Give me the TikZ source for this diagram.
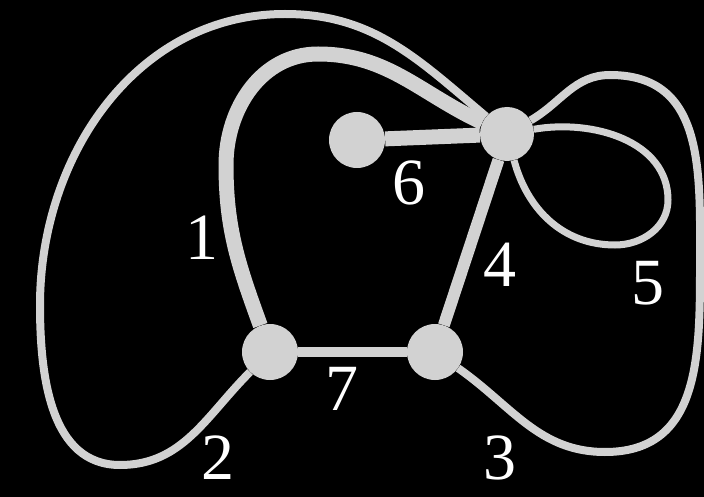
\documentclass[tikz,border=0pt]{standalone}
\usepackage{fontspec}
\setmainfont{Liberation Serif}
\definecolor{edgegray}{RGB}{210,210,210}

\begin{document}
\begin{tikzpicture}[x=1pt,y=1pt,
  v/.style={circle,fill=edgegray,inner sep=0,minimum size=56pt},
  e/.style={draw=edgegray,line width=#1},
  lab/.style={text=white,inner sep=0,font=\fontsize{66}{76}\selectfont}]
\fill[black] (0,0) rectangle (704,-497);
\useasboundingbox (0,0) rectangle (704,-497);
\node[v] (A) at (270,-352) {};
\node[v] (B) at (435,-352) {};
\node[v,minimum size=54pt] (C) at (507,-134) {};
\node[v] (D) at (357,-140) {};
\draw[e=15pt] (A) to[out=110,in=-90] (226,-165) to[out=90,in=180] (318,-54) to[out=0,in=155] (C);
\draw[e=8pt] (A) to[out=225,in=0] (120,-465) to[out=180,in=-90] (40,-305)
  to[out=90,in=180] (285,-14) to[out=0,in=140] (C);
\draw[e=8pt] (B) to[out=-35,in=180] (605,-452) to[out=0,in=-90,looseness=1.15] (700,-268)
  to[out=90,in=0,looseness=1.15] (610,-75) to[out=180,in=30] (C);
\draw[e=12pt] (B) -- (C);
\draw[e=7pt] (C) to[out=10,in=90] (668,-200) to[out=-90,in=0] (615,-245) to[out=180,in=-75] (C);
\draw[e=15pt] (D) -- (C);
\draw[e=10pt] (A) -- (B);
\foreach \n/\p in {1/{202,-238},2/{218,-458},3/{500,-458},4/{500,-265},5/{648,-283},6/{409,-183},7/{342,-389}}
  \node[lab] (l\n) at (\p) {\n};
\end{tikzpicture}
\end{document}
